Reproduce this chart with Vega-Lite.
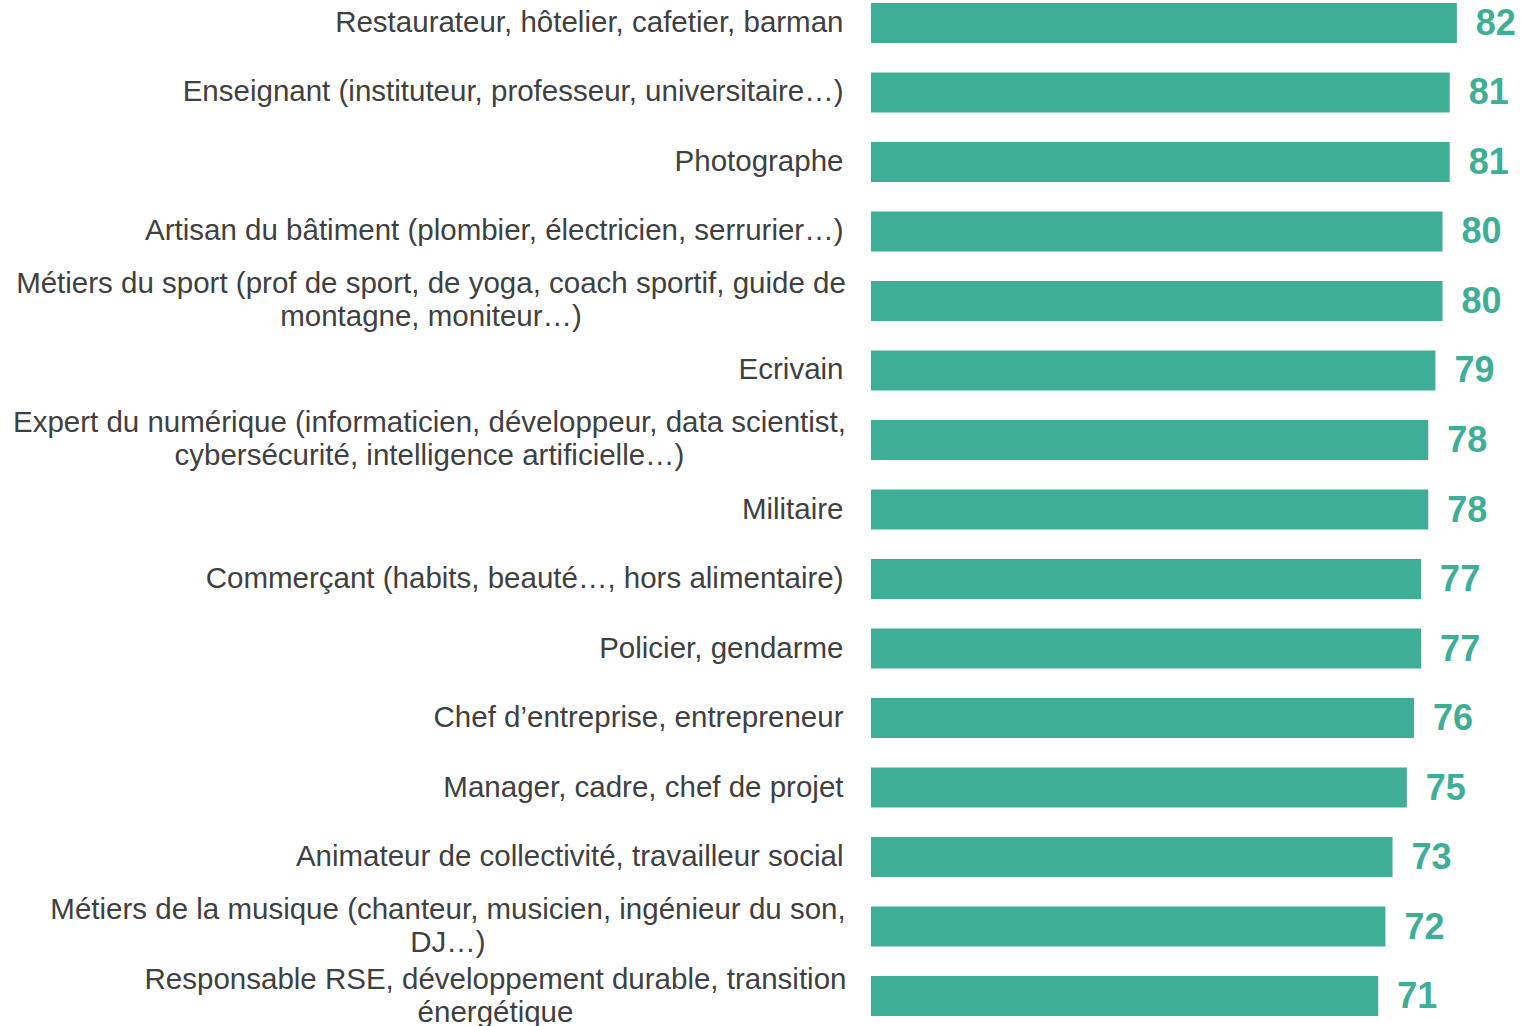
{
  "$schema": "https://vega.github.io/schema/vega-lite/v6.json",
  "autosize": {"type": "none"},
  "width": 643,
  "height": 1019,
  "padding": {"left": 871, "top": 0, "right": 10, "bottom": 7},
  "background": "#ffffff",
  "config": {"view": {"stroke": null}, "font": "Liberation Sans"},
  "data": {
    "values": [
      {"metier": "Restaurateur, hôtelier, cafetier, barman", "score": 82},
      {"metier": "Enseignant (instituteur, professeur, universitaire…)", "score": 81},
      {"metier": "Photographe", "score": 81},
      {"metier": "Artisan du bâtiment (plombier, électricien, serrurier…)", "score": 80},
      {"metier": "Métiers du sport (prof de sport, de yoga, coach sportif, guide de|montagne, moniteur…)", "score": 80},
      {"metier": "Ecrivain", "score": 79},
      {"metier": "Expert du numérique (informaticien, développeur, data scientist,|cybersécurité, intelligence artificielle…)", "score": 78},
      {"metier": "Militaire", "score": 78},
      {"metier": "Commerçant (habits, beauté…, hors alimentaire)", "score": 77},
      {"metier": "Policier, gendarme", "score": 77},
      {"metier": "Chef d’entreprise, entrepreneur", "score": 76},
      {"metier": "Manager, cadre, chef de projet", "score": 75},
      {"metier": "Animateur de collectivité, travailleur social", "score": 73},
      {"metier": "Métiers de la musique (chanteur, musicien, ingénieur du son,|DJ…)", "score": 72},
      {"metier": "Responsable RSE, développement durable, transition|énergétique", "score": 71}
    ]
  },
  "encoding": {
    "y": {
      "field": "metier",
      "type": "nominal",
      "sort": null,
      "scale": {"paddingInner": 0.425, "paddingOuter": 0.043},
      "axis": {
        "title": null,
        "domain": false,
        "ticks": false,
        "tickSize": 0,
        "labelExpr": "split(datum.label, '|')",
        "labelFont": "Liberation Sans",
        "labelFontSize": 29.5,
        "labelColor": "#404040",
        "labelLimit": 0,
        "labelLineHeight": 33,
        "labelAlign": {
          "condition": {"test": "indexof(datum.value, '|') >= 0", "value": "center"},
          "value": "right"
        },
        "labelOffset": {
          "condition": {"test": "indexof(datum.value, '|') >= 0", "value": -16.5},
          "value": 0
        },
        "labelPadding": {
          "condition": [
            {"test": "indexof(datum.value, 'sport') >= 0", "value": 440.5},
            {"test": "indexof(datum.value, 'numérique') >= 0", "value": 442},
            {"test": "indexof(datum.value, 'musique') >= 0", "value": 423.5},
            {"test": "indexof(datum.value, 'RSE') >= 0", "value": 376}
          ],
          "value": 28
        }
      }
    },
    "x": {
      "field": "score",
      "type": "quantitative",
      "scale": {"domain": [0, 90], "nice": false},
      "axis": null
    }
  },
  "layer": [
    {"mark": {"type": "bar", "color": "#3EAE96"}},
    {
      "mark": {
        "type": "text",
        "align": "left",
        "baseline": "middle",
        "dx": 19,
        "dy": 1,
        "font": "Liberation Sans",
        "fontSize": 36,
        "fontWeight": "bold",
        "color": "#3EAE96"
      },
      "encoding": {"text": {"field": "score", "type": "quantitative"}}
    }
  ]
}
